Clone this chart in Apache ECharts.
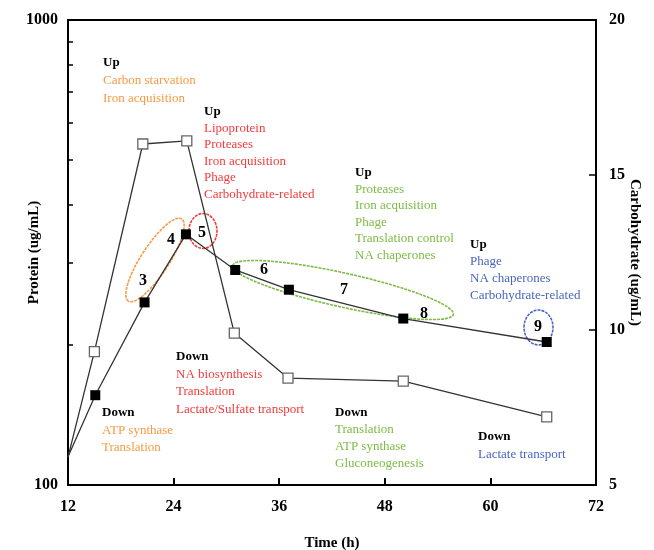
<!DOCTYPE html>
<html>
<head>
<meta charset="utf-8">
<script src="https://cdn.jsdelivr.net/npm/echarts@6/dist/echarts.min.js"></script>
<style>
  html, body { margin: 0; padding: 0; background: #fff; }
  #chart { width: 654px; height: 550px; }
</style>
</head>
<body>
<div id="chart"></div>
<script>
// time points (h)
const proteinTime = [12, 15.1, 20.7, 25.4, 31.0, 37.1, 50.1, 66.4]
const proteinVal = [115, 156, 247, 346, 290, 263, 228, 203]
const carbTime = [12, 15.0, 20.5, 25.5, 30.9, 37.0, 50.1, 66.4]
const carbVal = [5.9, 9.3, 16.0, 16.1, 9.9, 8.45, 8.35, 7.2]

const xTicks = [12, 24, 36, 48, 60, 72]
const proteinMinorTicks = [200, 300, 400, 500, 600, 700, 800, 900]

const sampleLabels = ['3', '4', '5', '6', '7', '8', '9']

const orange = '#F79A45'
const red = '#F23B3B'
const green = '#7DBB45'
const blue = '#4A66BE'

const upEarly = ['Carbon starvation', 'Iron acquisition']
const upPeak = ['Lipoprotein', 'Proteases', 'Iron acquisition', 'Phage', 'Carbohydrate-related']
const upMid = ['Proteases', 'Iron acquisition', 'Phage', 'Translation control', 'NA chaperones']
const upLate = ['Phage', 'NA chaperones', 'Carbohydrate-related']
const downEarly = ['ATP synthase', 'Translation']
const downPeak = ['NA biosynthesis', 'Translation', 'Lactate/Sulfate transport']
const downMid = ['Translation', 'ATP synthase', 'Gluconeogenesis']
const downLate = ['Lactate transport']

const serif = '"Liberation Serif", "DejaVu Serif", serif'

function pairs(xs, ys) {
    return xs.map((x, i) => {
        if (i === 0) {
            return { value: [x, ys[i]], symbol: 'none' }
        }
        return [x, ys[i]]
    })
}

// annotation blocks: heading + coloured list
function noteBlock(x, y, head, items, color, step) {
    let els = [{
        type: 'text', x: x, y: y, z: 50,
        style: { text: head, fill: '#000', font: 'bold 13px ' + serif, verticalAlign: 'middle' }
    }]
    items.forEach((t, i) => {
        els.push({
            type: 'text', x: x, y: y + step * (i + 1), z: 50,
            style: { text: t, fill: color, font: '13px ' + serif, verticalAlign: 'middle' }
        })
    })
    return els
}

function ring(cx, cy, rx, ry, deg, color) {
    return {
        type: 'group', x: cx, y: cy, rotation: deg * Math.PI / 180, z: 40,
        children: [{
            type: 'ellipse',
            shape: { cx: 0, cy: 0, rx: rx, ry: ry },
            style: { fill: 'none', stroke: color, lineWidth: 1.6, lineDash: [3, 1] }
        }]
    }
}

const labelPos = [[143, 281], [171, 240], [202, 233], [264, 270], [344, 290], [424, 314], [538, 327]]

let graphics = []
graphics = graphics.concat(noteBlock(103, 63, 'Up', upEarly, orange, 18))
graphics = graphics.concat(noteBlock(204, 112, 'Up', upPeak, red, 16.5))
graphics = graphics.concat(noteBlock(355, 173, 'Up', upMid, green, 16.5))
graphics = graphics.concat(noteBlock(470, 245, 'Up', upLate, blue, 17))
graphics = graphics.concat(noteBlock(176, 357, 'Down', downPeak, red, 17.5))
graphics = graphics.concat(noteBlock(102, 413, 'Down', downEarly, orange, 17.5))
graphics = graphics.concat(noteBlock(335, 413, 'Down', downMid, green, 17))
graphics = graphics.concat(noteBlock(478, 437, 'Down', downLate, blue, 18))

sampleLabels.forEach((t, i) => {
    graphics.push({
        type: 'text', x: labelPos[i][0], y: labelPos[i][1], z: 60,
        style: { text: t, fill: '#000', font: 'bold 16px ' + serif, align: 'center', verticalAlign: 'middle' }
    })
})

graphics.push(ring(155, 260, 49, 14, 57, orange))
graphics.push(ring(203, 231, 14, 17.5, 0, red))
graphics.push(ring(343, 290, 113, 17, -12.5, green))
graphics.push(ring(538.5, 327.5, 14.5, 17.5, 0, blue))

const tickFont = { color: '#000', fontFamily: serif, fontSize: 16, fontWeight: 'bold' }
const nameFont = { color: '#000', fontFamily: serif, fontSize: 15, fontWeight: 'bold' }

const chart = echarts.init(document.getElementById('chart'))
chart.setOption({
    animation: false,
    backgroundColor: '#fff',
    grid: {
        left: 68, right: 58, top: 20, bottom: 65,
        containLabel: false, outerBoundsMode: 'none',
        show: true, borderColor: '#000', borderWidth: 2
    },
    xAxis: {
        type: 'value', min: 12, max: 72, interval: 12,
        name: 'Time (h)', nameLocation: 'middle', nameGap: 51, nameMoveOverlap: false,
        nameTextStyle: nameFont,
        axisLine: { lineStyle: { color: '#000', width: 2 } },
        axisTick: { inside: true, length: 7, lineStyle: { color: '#000', width: 2 } },
        axisLabel: Object.assign({ margin: 14 }, tickFont),
        splitLine: { show: false }
    },
    yAxis: [{
        type: 'log', logBase: 10, min: 100, max: 1000,
        name: 'Protein (ug/mL)', nameLocation: 'middle', nameGap: 26, nameRotate: 90, nameMoveOverlap: false,
        nameTextStyle: nameFont,
        axisLine: { show: true, lineStyle: { color: '#000', width: 2 } },
        axisTick: { inside: true, length: 5, customValues: proteinMinorTicks, lineStyle: { color: '#000', width: 1.5 } },
        axisLabel: Object.assign({ margin: 10, customValues: [100, 1000], formatter: (v) => String(v) }, tickFont),
        splitLine: { show: false }
    }, {
        type: 'value', min: 5, max: 20, interval: 5, position: 'right',
        name: 'Carbohydrate (ug/mL)', nameLocation: 'middle', nameGap: 31, nameRotate: -90, nameMoveOverlap: false,
        nameTextStyle: nameFont,
        axisLine: { show: true, lineStyle: { color: '#000', width: 2 } },
        axisTick: { inside: true, length: 7, lineStyle: { color: '#000', width: 1.5 } },
        axisLabel: Object.assign({ margin: 13 }, tickFont),
        splitLine: { show: false }
    }],
    series: [{
        name: 'Carbohydrate',
        type: 'line', yAxisIndex: 1,
        data: pairs(carbTime, carbVal),
        symbol: 'rect', symbolSize: 10,
        lineStyle: { color: '#333', width: 1.3 },
        itemStyle: { color: '#fff', borderColor: '#666', borderWidth: 1.3 },
        z: 3
    }, {
        name: 'Protein',
        type: 'line', yAxisIndex: 0,
        data: pairs(proteinTime, proteinVal),
        symbol: 'rect', symbolSize: 10,
        lineStyle: { color: '#333', width: 1.3 },
        itemStyle: { color: '#000' },
        z: 4
    }],
    graphic: graphics
})
</script>
</body>
</html>
